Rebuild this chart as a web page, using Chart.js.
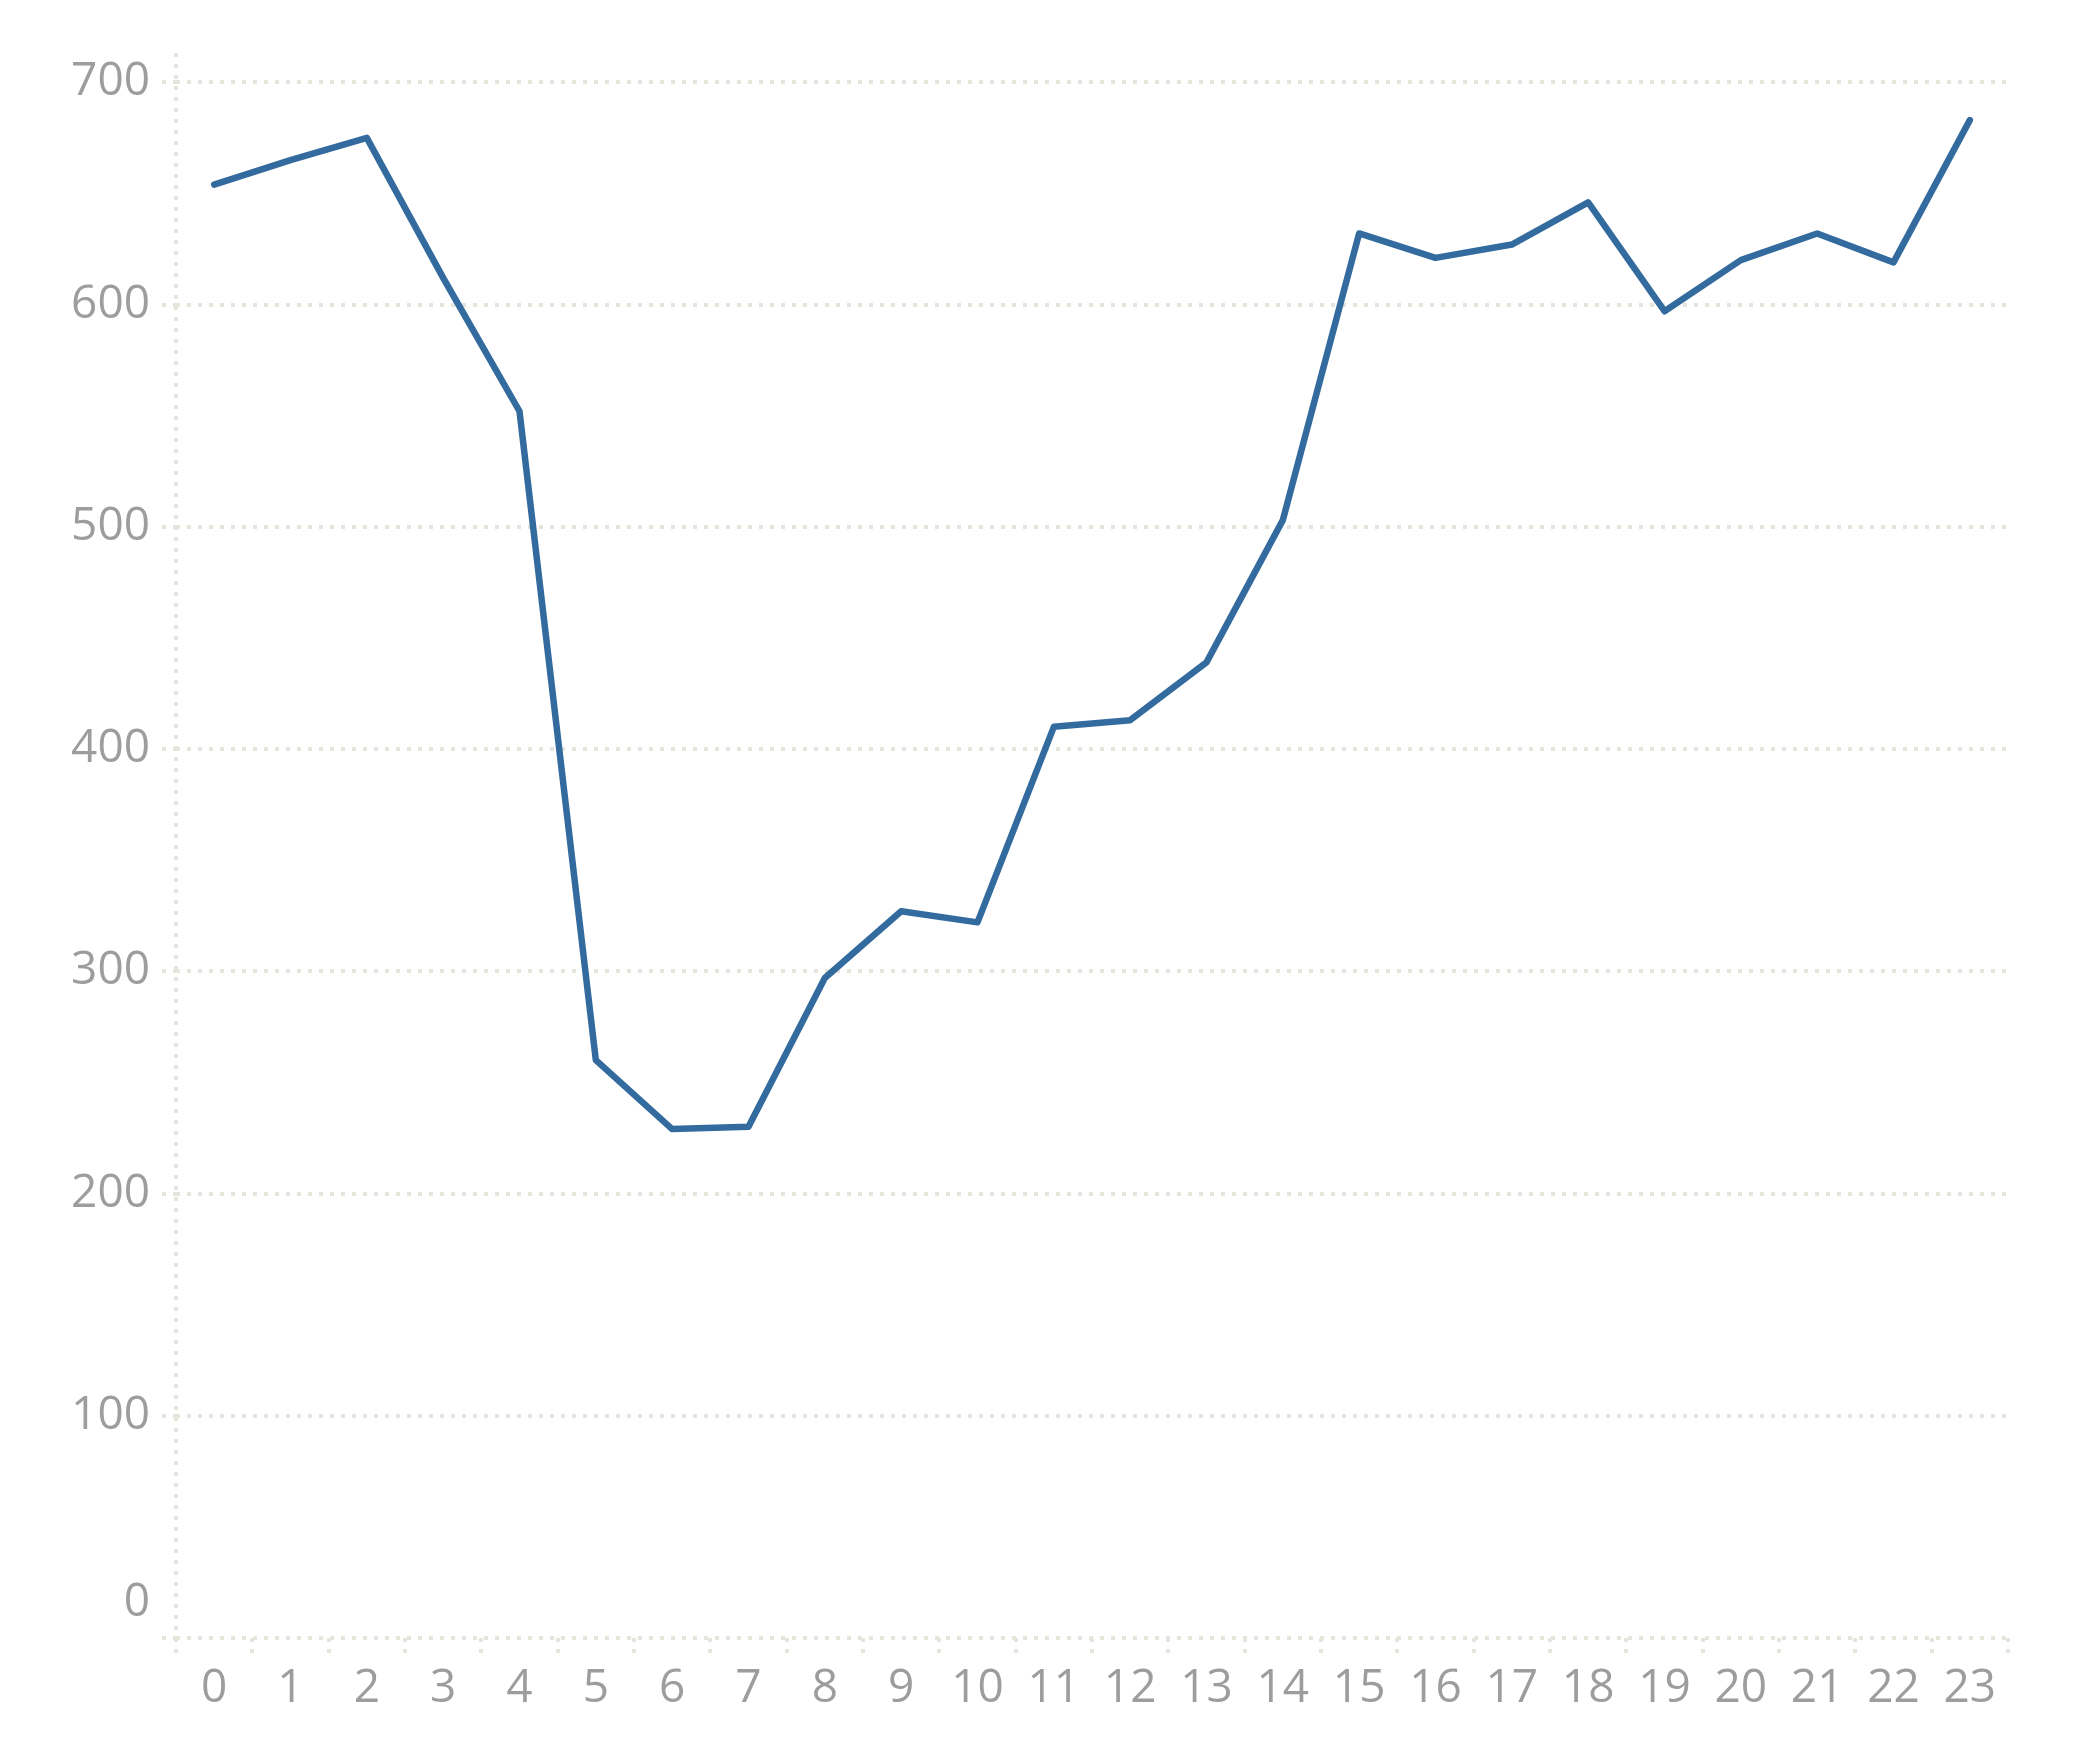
<!DOCTYPE html>
<html>
<head>
<meta charset="utf-8">
<script src="https://cdn.jsdelivr.net/npm/chart.js@4.4.1/dist/chart.umd.min.js"></script>
<style>
  html, body { margin: 0; padding: 0; background: #ffffff; }
  #wrap { width: 2079px; height: 1743px; }
</style>
</head>
<body>
<div id="wrap"><canvas id="c" width="2079" height="1743"></canvas></div>
<script>
// ---- data ----
const categories = ['0','1','2','3','4','5','6','7','8','9','10','11','12','13','14','15','16','17','18','19','20','21','22','23'];
const seriesValues = [654, 665, 675, 612, 552, 260, 229, 230, 297, 327, 322, 410, 413, 439, 503, 632, 621, 627, 646, 597, 620, 632, 619, 683];
const yTickValues = [0, 100, 200, 300, 400, 500, 600, 700];

const FONT = 'Open Sans';
const FSIZE = 46;
const LABEL = '#9d9d9d';
const GRID = '#e6e5dc';
const NONE = 'rgba(0,0,0,0)';

new Chart(document.getElementById('c'), {
  type: 'line',
  data: {
    labels: categories,
    datasets: [{
      data: seriesValues,
      borderColor: '#336b9f',
      borderWidth: 6.5,
      pointRadius: 0,
      pointHoverRadius: 0,
      tension: 0,
      fill: false,
      borderJoinStyle: 'round',
      borderCapStyle: 'round'
    }]
  },
  options: {
    responsive: false,
    devicePixelRatio: 1,
    animation: false,
    layout: { padding: { top: 53, right: 71, left: 0, bottom: 0 } },
    plugins: { legend: { display: false }, tooltip: { enabled: false } },
    scales: {
      x: {
        offset: true,
        grid: {
          offset: true,
          drawOnChartArea: true,
          drawTicks: true,
          tickLength: 18,
          tickWidth: 4,
          tickColor: GRID,
          tickBorderDash: [4, 7],
          lineWidth: 4,
          color: (ctx) => (ctx.index === 0 ? GRID : NONE)
        },
        border: { display: false, dash: [4, 7] },
        ticks: {
          color: LABEL,
          padding: 5,
          maxRotation: 0,
          autoSkip: false,
          font: { family: FONT, size: FSIZE, lineHeight: 1.2 }
        },
        afterFit: (s) => { s.height = 105; }
      },
      y: {
        min: 0,
        max: 713.2,
        afterBuildTicks: (s) => { s.ticks = yTickValues.map(v => ({ value: v })); },
        grid: {
          color: GRID,
          lineWidth: 4,
          drawTicks: true,
          tickLength: 14,
          tickWidth: 4,
          tickColor: GRID,
          tickBorderDash: [4, 7]
        },
        border: { display: false, dash: [4, 7] },
        ticks: {
          color: LABEL,
          padding: 12,
          includeBounds: false,
          callback: (v) => (v === 0 ? ['0', ''] : String(v)),
          font: (ctx) => ({
            family: FONT,
            size: FSIZE,
            lineHeight: (ctx.tick && ctx.tick.value === 0) ? 70 / FSIZE : 1.2
          })
        },
        afterFit: (s) => { s.width = 176; }
      }
    }
  }
});
</script>
</body>
</html>
